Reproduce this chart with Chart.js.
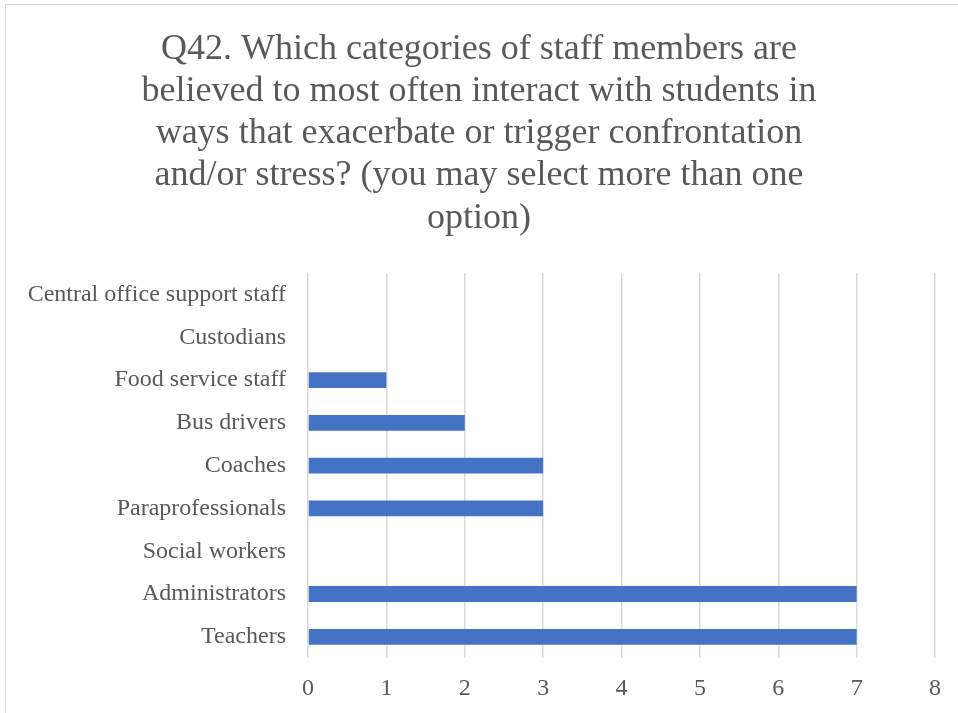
<!DOCTYPE html>
<html>
<head>
<meta charset="utf-8">
<script src="https://cdn.jsdelivr.net/npm/chart.js@4.4.1/dist/chart.umd.min.js"></script>
<style>
  html, body { margin: 0; padding: 0; background: #fff; overflow: hidden; }
  #frame {
    position: absolute; left: 5px; top: 4px;
    width: 960px; height: 770px;
    border: 1px solid #d9d9d9; background: #fff;
  }
  #chartBox { position: absolute; left: 0; top: 0; width: 952px; height: 750px; }
</style>
</head>
<body>
<div id="frame"><div id="chartBox"><canvas id="staffChart"></canvas></div></div>
<script>
// Staff categories, listed top to bottom
const staffCategories = [
    'Central office support staff',
    'Custodians',
    'Food service staff',
    'Bus drivers',
    'Coaches',
    'Paraprofessionals',
    'Social workers',
    'Administrators',
    'Teachers'
];
const responseCounts = [0, 0, 1, 2, 3, 3, 0, 7, 7];
const countTicks = [0, 1, 2, 3, 4, 5, 6, 7, 8];
const titleLines = [
    'Q42. Which categories of staff members are',
    'believed to most often interact with students in',
    'ways that exacerbate or trigger confrontation',
    'and/or stress? (you may select more than one',
    'option)'
];

const textColor = '#595959';
const serif = "'Liberation Serif', 'Times New Roman', serif";

const ctx = document.getElementById('staffChart').getContext('2d');
new Chart(ctx, {
    type: 'bar',
    data: {
        labels: staffCategories,
        datasets: [{
            data: responseCounts,
            backgroundColor: '#4472c4',
            barPercentage: 0.37,
            categoryPercentage: 1.0
        }]
    },
    options: {
        indexAxis: 'y',
        responsive: true,
        maintainAspectRatio: false,
        animation: false,
        layout: {
            padding: { left: 17, right: 23, top: 0, bottom: 36 }
        },
        plugins: {
            legend: { display: false },
            tooltip: { enabled: false },
            title: {
                display: true,
                text: titleLines,
                color: textColor,
                font: { family: serif, size: 36, weight: 'normal', lineHeight: 1.167 },
                padding: { top: 24, bottom: 34 }
            }
        },
        scales: {
            x: {
                min: 0,
                max: 8,
                afterBuildTicks: function(axis) {
                    axis.ticks = countTicks.map(v => ({ value: v }));
                },
                grid: { color: '#d9d9d9', lineWidth: 1.5, drawTicks: false },
                border: { display: false },
                ticks: {
                    color: textColor,
                    font: { family: serif, size: 24 },
                    padding: 16
                }
            },
            y: {
                // fixed label column so the plot starts at the same place
                afterFit: function(axis) {
                    axis.width = 285;
                },
                grid: { display: false, drawTicks: false },
                border: { display: false },
                ticks: {
                    color: textColor,
                    font: { family: serif, size: 24 },
                    padding: 22
                }
            }
        }
    }
});
</script>
</body>
</html>
